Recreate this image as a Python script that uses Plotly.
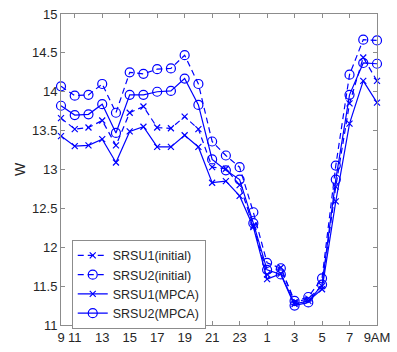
import plotly.graph_objects as go

tick_labels = ["9", "11", "13", "15", "17", "19", "21", "23", "1", "3", "5", "7", "9AM"]
tick_index = [0, 1, 3, 5, 7, 9, 11, 13, 15, 17, 19, 21, 23]
hours = list(range(24))

srsu1_initial = [13.66, 13.52, 13.54, 13.63, 13.31, 13.73, 13.81, 13.54, 13.53, 13.68, 13.52, 13.03,
                 13.01, 12.80, 12.28, 11.65, 11.74, 11.29, 11.34, 11.50, 12.78, 13.85, 14.44, 14.14]
srsu2_initial = [14.07, 13.95, 13.96, 14.10, 13.73, 14.25, 14.23, 14.29, 14.30, 14.47, 14.10, 13.36,
                 13.18, 13.03, 12.45, 11.80, 11.73, 11.31, 11.36, 11.60, 13.05, 14.22, 14.67, 14.66]
srsu1_mpca = [13.43, 13.30, 13.31, 13.39, 13.09, 13.49, 13.55, 13.29, 13.29, 13.44, 13.29, 12.83,
              12.85, 12.66, 12.26, 11.59, 11.66, 11.27, 11.31, 11.46, 12.59, 13.59, 14.14, 13.86]
srsu2_mpca = [13.82, 13.70, 13.71, 13.84, 13.47, 13.96, 13.96, 14.00, 14.01, 14.17, 13.83, 13.13,
              12.99, 12.87, 12.31, 11.71, 11.65, 11.25, 11.29, 11.52, 12.87, 13.96, 14.37, 14.36]

blue = "rgb(0,0,255)"
series = [
    ("SRSU1(initial)", srsu1_initial, "6px,4px", "x-thin-open", 6),
    ("SRSU2(initial)", srsu2_initial, "6px,4px", "circle-open", 9),
    ("SRSU1(MPCA)", srsu1_mpca, "solid", "x-thin-open", 6),
    ("SRSU2(MPCA)", srsu2_mpca, "solid", "circle-open", 9),
]

fig = go.Figure()
for name, vals, dash, sym, size in series:
    fig.add_trace(go.Scatter(
        x=hours, y=vals, name=name, mode="lines+markers",
        line=dict(color=blue, width=1.2, dash=dash),
        marker=dict(symbol=sym, size=size, color=blue, line=dict(color=blue, width=1.2)),
        cliponaxis=False,
    ))

axis_col = "#8c8c8c"
fig.update_layout(
    width=397, height=352,
    margin=dict(l=61, r=16, t=7, b=27),
    paper_bgcolor="white", plot_bgcolor="white",
    font=dict(family="Liberation Sans, Arial, sans-serif", size=13, color="#262626"),
    showlegend=True,
    legend=dict(x=0.034, y=0.274, xanchor="left", yanchor="top",
                bordercolor=axis_col, borderwidth=1, bgcolor="white",
                font=dict(size=12.5, color="#262626"),
                tracegroupgap=0, itemwidth=30),
)
fig.update_xaxes(
    range=[0, 23], tickmode="array", tickvals=tick_index, ticktext=tick_labels,
    ticks="inside", ticklen=4, tickcolor=axis_col, showline=True, linecolor=axis_col,
    linewidth=1, mirror="allticks", showgrid=False, zeroline=False,
    tickfont=dict(size=13, color="#262626"),
)
fig.update_yaxes(
    range=[11, 15], tickmode="array", tickvals=[11, 11.5, 12, 12.5, 13, 13.5, 14, 14.5, 15],
    ticktext=["11", "11.5", "12", "12.5", "13", "13.5", "14", "14.5", "15"],
    ticks="inside", ticklen=4, tickcolor=axis_col, showline=True, linecolor=axis_col,
    linewidth=1, mirror="allticks", showgrid=False, zeroline=False,
    title=dict(text="W", standoff=3, font=dict(size=14, color="#262626")),
    tickfont=dict(size=13, color="#262626"),
)
fig.write_html("out.html", config={"displayModeBar": False},
               post_script="document.body.style.margin='0';")
